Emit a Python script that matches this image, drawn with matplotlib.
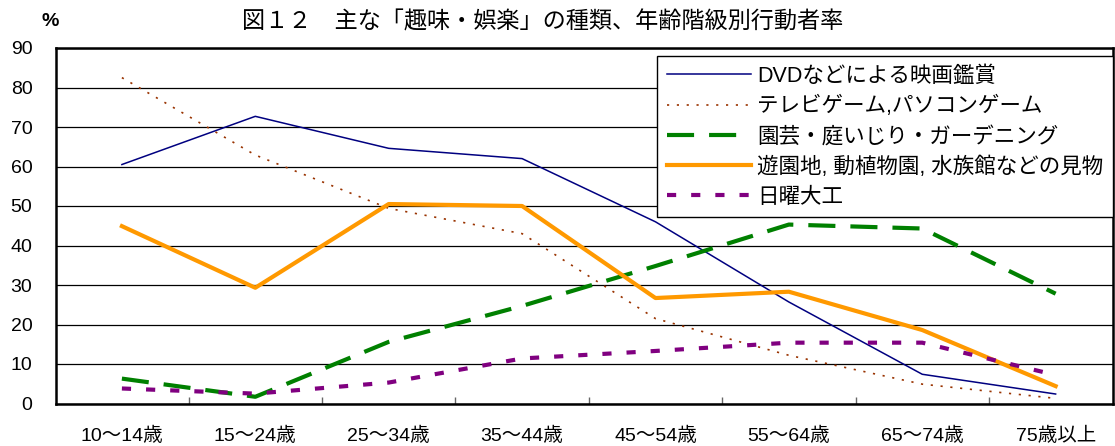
import matplotlib.pyplot as plt
import numpy as np

plt.rcParams['font.family'] = ['Liberation Sans', 'Noto Sans CJK JP', 'DejaVu Sans']

# Data
age_groups = ['10～14歳', '15～24歳', '25～34歳', '35～44歳',
              '45～54歳', '55～64歳', '65～74歳', '75歳以上']
dvd = [60.5, 72.7, 64.6, 62.0, 46.0, 25.7, 7.4, 2.4]
tv_game = [82.5, 62.9, 49.4, 43.0, 21.5, 12.2, 4.9, 1.3]
gardening = [6.3, 1.7, 15.6, 24.7, 34.8, 45.3, 44.3, 27.8]
amusement = [44.9, 29.3, 50.5, 50.0, 26.7, 28.3, 18.6, 4.4]
diy = [3.8, 2.5, 5.3, 11.4, 13.3, 15.4, 15.4, 7.2]

labels = ['DVDなどによる映画鑑賞', 'テレビゲーム,パソコンゲーム',
          '園芸・庭いじり・ガーデニング', '遊園地, 動植物園, 水族館などの見物', '日曜大工']

fig = plt.figure(figsize=(11.15, 4.46), dpi=100)
ax = fig.add_axes([56 / 1115, 1 - 403.5 / 446, (1113 - 56) / 1115, (403.5 - 48) / 446])

x = np.arange(len(age_groups))

ax.plot(x, dvd, color='#000080', lw=1.1, label=labels[0], zorder=3)
ax.plot(x, tv_game, color='#993300', lw=1.2, dashes=(1.3, 4.6), label=labels[1], zorder=3)
ax.plot(x, gardening, color='#008000', lw=3.0, dashes=(6.5, 3.6), label=labels[2], zorder=3)
ax.plot(x, amusement, color='#FF9900', lw=3.0, label=labels[3], zorder=3)
ax.plot(x, diy, color='#800080', lw=3.0, dashes=(2.2, 3.6), label=labels[4], zorder=3)

ax.set_ylim(0, 90)
ax.set_xlim(-0.494, 7.43)
ax.set_yticks(np.arange(0, 91, 10))
ax.set_yticklabels([str(v) for v in range(0, 91, 10)], fontsize=14)
ax.set_xticks(x)
ax.set_xticklabels(age_groups, fontsize=14)
ax.tick_params(axis='y', length=0, pad=17)
ax.tick_params(axis='x', length=0, pad=17)
# category separators on the x axis
ax.set_xticks(np.arange(0.5, 7, 1), minor=True)
ax.tick_params(axis='x', which='minor', direction='in', length=5, width=1, color='#666666')
ax.grid(axis='y', color='black', lw=0.9, zorder=1)
for s in ax.spines.values():
    s.set_linewidth(1.8)

ax.legend(loc='upper right', bbox_to_anchor=(1.0, 0.977), fontsize=15.5, frameon=True,
          fancybox=False, edgecolor='black', framealpha=1, handlelength=3.9,
          handletextpad=0.3, borderpad=0.45, labelspacing=0.42, borderaxespad=0.0)

fig.text(543 / 1115, 1 - 22 / 446, '図１２　主な「趣味・娯楽」の種類、年齢階級別行動者率',
         ha='center', va='center', fontsize=16.7)
fig.text(50 / 1115, 1 - 22 / 446, '%', ha='center', va='center', fontsize=14,
         fontweight='bold')

fig.savefig('out.png', dpi=100)
